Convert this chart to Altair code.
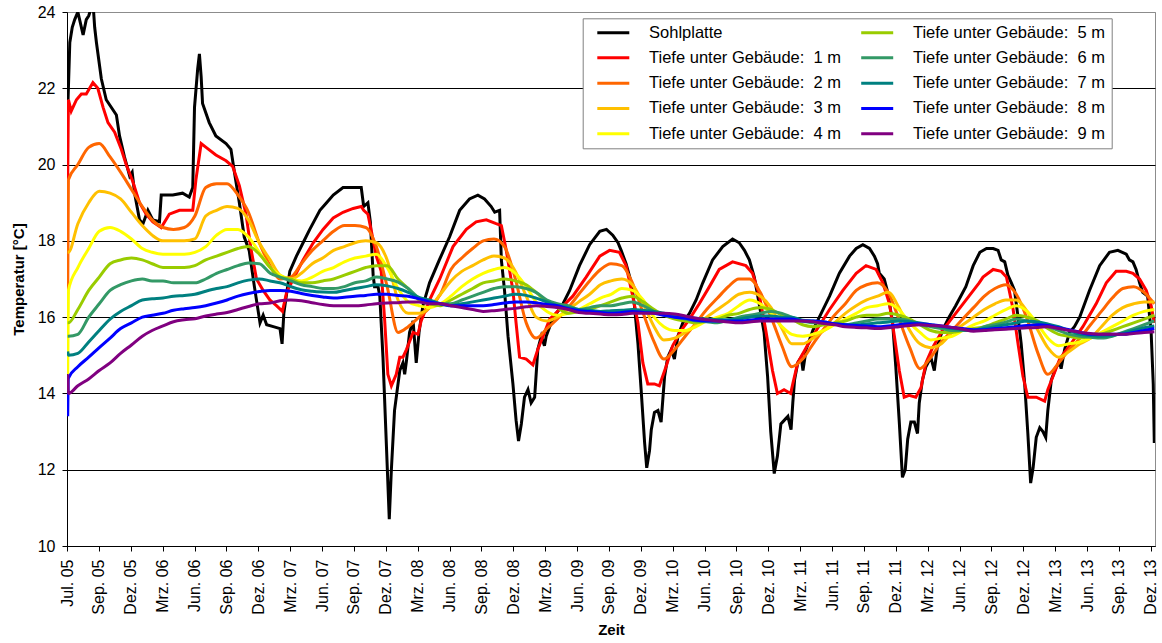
import json
import altair as alt
import pandas as pd

START = pd.Timestamp("2005-07-01")

SERIES = [
    "Sohlplatte",
    "Tiefe unter Gebäude:\u00a0 1 m",
    "Tiefe unter Gebäude:\u00a0 2 m",
    "Tiefe unter Gebäude:\u00a0 3 m",
    "Tiefe unter Gebäude:\u00a0 4 m",
    "Tiefe unter Gebäude:\u00a0 5 m",
    "Tiefe unter Gebäude:\u00a0 6 m",
    "Tiefe unter Gebäude:\u00a0 7 m",
    "Tiefe unter Gebäude:\u00a0 8 m",
    "Tiefe unter Gebäude:\u00a0 9 m",
]
COLORS = ["#000000", "#FF0000", "#FF6600", "#FFC000", "#FFFF00",
          "#99CC00", "#339966", "#008080", "#0000FF", "#800080"]

X_TICK_LABELS = [
    "Jul. 05", "Sep. 05", "Dez. 05", "Mrz. 06", "Jun. 06", "Sep. 06", "Dez. 06",
    "Mrz. 07", "Jun. 07", "Sep. 07", "Dez. 07", "Mrz. 08", "Jun. 08", "Sep. 08",
    "Dez. 08", "Mrz. 09", "Jun. 09", "Sep. 09", "Dez. 09", "Mrz. 10", "Jun. 10",
    "Sep. 10", "Dez. 10", "Mrz. 11", "Jun. 11", "Sep. 11", "Dez. 11", "Mrz. 12",
    "Jun. 12", "Sep. 12", "Dez. 12", "Mrz. 13", "Jun. 13", "Sep. 13", "Dez. 13",
]
Y_TICKS = [10, 12, 14, 16, 18, 20, 22, 24]

# ---- Sohlplatte: days since 01.07.2005 and temperature ----
BLACK_DAYS = [
    3, 8, 15, 22, 31, 46, 55, 62, 69, 76, 79, 84, 98, 112, 141, 150, 164, 179, 186, 193,
    207, 217, 231, 245, 264, 269, 283, 302, 330, 349, 359, 364, 373, 378, 383, 387, 406,
    425, 454, 468, 478, 492, 506, 520, 535, 551, 560, 570, 589, 608, 614, 619, 636, 655,
    674, 693, 722, 741, 760, 788, 817, 840, 847, 859, 866, 874, 878, 888, 893, 902, 912,
    920, 926, 935, 950, 959, 964, 969, 978, 988, 997, 1005, 1016, 1035, 1063, 1092, 1121,
    1149, 1173, 1192, 1211, 1221, 1235, 1240, 1249, 1259, 1273, 1282, 1289, 1297, 1306,
    1316, 1325, 1335, 1344, 1354, 1363, 1368, 1382, 1397, 1416, 1435, 1463, 1492, 1521,
    1540, 1558, 1573, 1582, 1596, 1611, 1620, 1630, 1639, 1649, 1655, 1663, 1668, 1677,
    1687, 1696, 1701, 1706, 1715, 1725, 1734, 1744, 1758, 1777, 1796, 1815, 1843, 1872,
    1900, 1919, 1934, 1948, 1962, 1976, 1990, 2000, 2009, 2019, 2028, 2038, 2048, 2058,
    2067, 2072, 2077, 2086, 2096, 2101, 2110, 2129, 2153, 2177, 2205, 2234, 2253, 2272,
    2291, 2305, 2314, 2319, 2333, 2343, 2357, 2366, 2376, 2385, 2393, 2400, 2409, 2419,
    2428, 2433, 2442, 2452, 2466, 2476, 2485, 2499, 2518, 2537, 2566, 2587, 2606, 2625,
    2644, 2658, 2667, 2677, 2686, 2696, 2705, 2715, 2724, 2734, 2743, 2751, 2758, 2767,
    2777, 2786, 2794, 2800, 2810, 2824, 2834, 2838, 2848, 2862, 2876, 2891, 2919, 2948,
    2976, 3000, 3024, 3033, 3043, 3052, 3062, 3071, 3085, 3095, 3101, 3104,
]
BLACK_TEMPS = [
    21.7, 23.2, 23.6, 23.8, 24.0, 23.4, 23.8, 23.9, 24.1, 24.0, 23.6, 23.2, 22.25, 21.7, 21.3, 20.75, 20.2, 19.7, 19.8, 19.25,
    18.55, 18.45, 18.8, 18.55, 18.5, 19.2, 19.2, 19.2, 19.25, 19.15, 19.4, 21.5, 22.5, 22.9, 22.3, 21.6, 21.1,
    20.75, 20.55, 20.4, 19.8, 19.0, 18.1, 17.75, 16.8, 15.85, 16.05, 15.8, 15.75, 15.7, 15.3, 16.1, 17.2, 17.6,
    17.95, 18.3, 18.8, 19.0, 19.2, 19.4, 19.4, 19.4, 18.9, 19.0, 18.5, 17.1, 16.8, 16.8, 16.55, 14.95, 12.6,
    10.7, 12.0, 13.55, 14.6, 14.8, 14.5, 14.85, 15.6, 15.9, 14.8, 15.6, 16.3, 16.9, 17.5, 18.1, 18.8,
    19.1, 19.2, 19.1, 18.9, 18.75, 18.8, 17.5, 16.7, 15.5, 14.25, 13.3, 12.75, 13.2, 13.9,
    14.1, 13.75, 13.9, 15.15, 15.5, 15.25, 15.5, 15.85, 16.1, 16.35, 16.7, 17.35, 17.9, 18.25,
    18.3, 18.15, 17.95, 17.75, 17.4, 16.9, 16.3, 15.3, 14.1, 12.7, 12.05, 12.5, 13.05, 13.5,
    13.55, 13.25, 13.85, 14.45, 14.95, 15.15, 14.9, 15.5, 15.85, 16.1, 16.45, 16.9, 17.5, 17.85,
    18.05, 17.95, 17.75, 17.5, 17.05, 16.35, 15.6, 14.45, 13.0, 11.9, 12.35, 13.2, 13.3, 13.4,
    13.05, 13.75, 14.35, 14.8, 14.95, 14.6, 15.15, 15.65, 16.1, 16.55, 17.15, 17.6, 17.8, 17.9,
    17.8, 17.6, 17.4, 17.15, 17.0, 16.65, 15.85, 14.7, 13.25, 11.8, 12.0, 12.8, 13.25, 13.25,
    12.95, 13.75, 14.35, 14.7, 14.95, 14.6, 15.25, 15.65, 16.0, 16.3, 16.8, 17.35, 17.7, 17.8,
    17.8, 17.75, 17.5, 17.45, 17.1, 16.9, 16.7, 16.0, 15.3, 14.25, 12.95, 11.65, 12.05, 12.85,
    13.1, 13.0, 12.85, 13.55, 14.35, 14.7, 14.8, 14.65, 15.15, 15.6, 15.75, 16.0, 16.7, 17.35,
    17.7, 17.75, 17.65, 17.5, 17.45, 17.25, 16.9, 16.65, 16.55, 15.6, 14.25, 12.7,
]

# ---- 1 m: days since 01.07.2005 and temperature ----
RED_DAYS = [
    2, 4, 12, 27, 41, 55, 74, 88, 103, 117, 136, 155, 169, 188, 207, 226, 245, 269, 292, 321,
    359, 368, 383, 397, 425, 454, 473, 492, 511, 525, 541, 560, 579, 598, 615, 627, 646, 674,
    703, 731, 760, 788, 817, 840, 847, 859, 869, 883, 897, 907, 916, 926, 940, 950, 959, 969,
    988, 1002, 1011, 1035, 1064, 1102, 1140, 1168, 1197, 1225, 1240, 1254, 1273, 1282, 1292,
    1311, 1330, 1344, 1359, 1378, 1406, 1444, 1482, 1521, 1549, 1577, 1596, 1615, 1630, 1644,
    1658, 1677, 1691, 1710, 1729, 1753, 1777, 1805, 1834, 1862, 1900, 1938, 1957, 1976, 1995,
    2014, 2028, 2047, 2066, 2072, 2086, 2110, 2139, 2177, 2215, 2253, 2281, 2310, 2329, 2348,
    2362, 2376, 2390, 2404, 2423, 2438, 2452, 2471, 2499, 2537, 2575, 2604, 2615, 2644, 2667,
    2682, 2701, 2715, 2729, 2743, 2767, 2791, 2800, 2815, 2834, 2862, 2900, 2938, 2967, 2995,
    3024, 3043, 3062, 3081, 3095, 3104,
]
RED_TEMPS = [
    19.6, 21.7, 21.4, 21.7, 21.85, 21.85, 22.15, 22.0, 21.5, 21.1, 20.85, 20.4, 20.0, 19.55, 19.0, 18.7, 18.5, 18.35, 18.7, 18.8,
    18.8, 19.6, 20.55, 20.45, 20.25, 20.1, 19.95, 19.45, 18.7, 17.8, 17.0, 16.7, 16.45, 16.3, 16.15, 16.65, 17.0, 17.5,
    17.95, 18.3, 18.6, 18.75, 18.85, 18.9, 18.8, 18.7, 18.25, 17.6, 17.2, 15.9, 14.5, 14.2, 14.5, 14.95, 14.95, 15.15,
    15.6, 15.55, 15.9, 16.45, 17.0, 17.85, 18.3, 18.5, 18.55, 18.45, 18.4, 17.75, 16.7, 15.85, 14.95,
    14.9, 14.75, 15.15, 15.5, 15.95, 16.2, 16.55, 17.05, 17.6, 17.75, 17.7, 17.35, 16.55, 15.85, 14.8,
    14.25, 14.25, 14.2, 14.7, 15.25, 15.65, 15.95, 16.35, 16.8, 17.25, 17.45, 17.35, 17.15, 16.6, 15.65,
    14.6, 14.0, 14.1, 14.0, 14.25, 14.8, 15.2, 15.65, 16.2, 16.7, 17.15, 17.35, 17.25, 16.9, 16.35,
    15.5, 14.6, 13.9, 13.95, 13.9, 14.15, 14.8, 15.2, 15.65, 16.1, 16.55, 16.9, 17.05, 17.25, 17.2,
    17.05, 16.2, 15.3, 14.45, 13.9, 13.9, 13.8, 14.1, 14.45, 14.9, 15.25, 15.75, 16.35, 16.9, 17.2,
    17.2, 17.15, 17.0, 16.7, 16.3, 15.85,
]

# ---- 2 m ... 9 m: two start readings, the 1st of every month Aug 2005 - Dec 2013, last reading ----
MONTH_DATES = (["2005-07-03", "2005-07-05"]
               + [d.strftime("%Y-%m-%d") for d in pd.date_range("2005-08-01", "2013-12-01", freq="MS")]
               + ["2013-12-30"])

T_2M = [16.6, 19.6,
        20.0, 20.45, 20.55, 20.2, 19.8,
        19.35, 18.9, 18.55, 18.35, 18.3, 18.35, 18.65, 19.4, 19.5, 19.5, 19.2, 18.75,
        17.95, 17.35, 17.0, 17.05, 17.4, 17.75, 18.0, 18.25, 18.4, 18.4, 18.35, 17.85,
        16.8, 15.6, 15.75, 16.0, 16.25, 16.6, 17.25, 17.55, 17.8, 18.0, 18.05, 17.85,
        17.0, 15.85, 15.45, 15.7, 15.95, 16.25, 16.6, 16.95, 17.25, 17.4, 17.35, 16.9,
        16.1, 15.35, 14.9, 15.15, 15.5, 15.85, 16.2, 16.5, 16.8, 17.0, 17.0, 16.65,
        16.0, 15.25, 14.7, 14.9, 15.3, 15.7, 16.05, 16.35, 16.7, 16.85, 16.9, 16.65,
        15.95, 15.2, 14.65, 14.95, 15.35, 15.65, 15.95, 16.25, 16.55, 16.75, 16.85, 16.6,
        15.95, 15.05, 14.5, 14.8, 15.15, 15.45, 15.8, 16.15, 16.5, 16.75, 16.8, 16.65,
        16.35]
T_3M = [17.7, 17.7,
        18.45, 19.0, 19.3, 19.25, 19.1,
        18.75, 18.4, 18.15, 18.0, 18.0, 18.0, 18.05, 18.65, 18.8, 18.9, 18.85, 18.55,
        17.95, 17.5, 17.1, 17.0, 17.15, 17.4, 17.55, 17.75, 17.85, 17.95, 18.0, 17.95,
        17.5, 16.45, 16.1, 16.1, 16.25, 16.6, 16.95, 17.2, 17.35, 17.5, 17.6, 17.55,
        17.2, 16.55, 16.0, 15.9, 16.0, 16.2, 16.4, 16.6, 16.85, 16.95, 17.0, 16.85,
        16.35, 15.75, 15.4, 15.45, 15.6, 15.8, 16.0, 16.2, 16.4, 16.6, 16.65, 16.55,
        16.25, 15.7, 15.3, 15.3, 15.45, 15.65, 15.85, 16.1, 16.3, 16.45, 16.55, 16.65,
        16.25, 15.65, 15.3, 15.2, 15.3, 15.6, 15.8, 16.0, 16.2, 16.35, 16.45, 16.45,
        16.15, 15.65, 15.2, 14.95, 15.1, 15.3, 15.45, 15.75, 16.05, 16.25, 16.35, 16.4,
        16.4]
T_4M = [14.5, 16.7,
        17.3, 17.8, 18.25, 18.35, 18.25,
        18.05, 17.8, 17.7, 17.65, 17.65, 17.65, 17.7, 17.85, 18.15, 18.3, 18.3, 18.1,
        17.7, 17.3, 17.1, 17.0, 16.95, 17.05, 17.2, 17.3, 17.45, 17.55, 17.6, 17.65,
        17.3, 16.75, 16.4, 16.3, 16.25, 16.35, 16.55, 16.8, 17.0, 17.15, 17.25, 17.3,
        17.15, 16.8, 16.4, 16.15, 16.05, 16.1, 16.2, 16.35, 16.5, 16.6, 16.75, 16.7,
        16.45, 16.0, 15.75, 15.65, 15.65, 15.75, 15.9, 16.0, 16.1, 16.3, 16.45, 16.35,
        16.1, 15.75, 15.55, 15.5, 15.55, 15.65, 15.8, 15.95, 16.1, 16.25, 16.3, 16.35,
        16.2, 15.85, 15.6, 15.4, 15.45, 15.5, 15.65, 15.8, 15.9, 16.05, 16.2, 16.3,
        16.15, 15.8, 15.45, 15.25, 15.3, 15.35, 15.45, 15.6, 15.75, 15.9, 16.05, 16.15,
        16.2]
T_5M = [15.85, 15.85,
        16.2, 16.7, 17.05, 17.4, 17.5,
        17.55, 17.5, 17.4, 17.3, 17.3, 17.3, 17.35, 17.5, 17.6, 17.7, 17.8, 17.85,
        17.65, 17.3, 17.05, 17.0, 16.9, 16.9, 16.95, 17.0, 17.1, 17.2, 17.3, 17.35,
        17.35, 17.0, 16.75, 16.45, 16.35, 16.3, 16.45, 16.6, 16.75, 16.9, 16.95, 17.0,
        16.95, 16.85, 16.65, 16.4, 16.25, 16.1, 16.15, 16.2, 16.3, 16.4, 16.5, 16.55,
        16.4, 16.2, 16.05, 15.95, 15.9, 15.85, 15.9, 15.95, 16.05, 16.1, 16.2, 16.25,
        16.2, 16.05, 15.95, 15.8, 15.75, 15.8, 15.85, 15.9, 16.0, 16.05, 16.05, 16.1,
        16.05, 15.95, 15.8, 15.65, 15.6, 15.6, 15.65, 15.7, 15.75, 15.85, 15.95, 16.05,
        16.0, 15.9, 15.7, 15.55, 15.5, 15.45, 15.5, 15.55, 15.65, 15.75, 15.85, 15.95,
        16.05]
T_6M = [15.5, 15.5,
        15.55, 16.0, 16.35, 16.7, 16.85,
        16.95, 17.0, 16.95, 16.95, 16.9, 16.9, 16.9, 17.0, 17.15, 17.25, 17.35, 17.42,
        17.4, 17.15, 17.05, 16.95, 16.85, 16.8, 16.75, 16.75, 16.8, 16.9, 16.95, 17.05,
        17.0, 16.92, 16.75, 16.5, 16.4, 16.35, 16.35, 16.45, 16.55, 16.65, 16.75, 16.8,
        16.8, 16.75, 16.65, 16.45, 16.35, 16.3, 16.2, 16.25, 16.3, 16.3, 16.35, 16.4,
        16.3, 16.15, 16.05, 16.0, 15.95, 15.9, 15.88, 15.85, 15.92, 16.0, 16.05, 16.1,
        16.15, 16.1, 16.0, 15.9, 15.85, 15.85, 15.82, 15.8, 15.85, 15.9, 15.95, 15.95,
        15.95, 15.9, 15.8, 15.75, 15.7, 15.65, 15.65, 15.65, 15.75, 15.8, 15.87, 15.95,
        15.9, 15.85, 15.75, 15.65, 15.55, 15.5, 15.47, 15.45, 15.5, 15.6, 15.7, 15.8,
        15.9]
T_7M = [15.1, 15.0,
        15.05, 15.35, 15.65, 15.95, 16.15,
        16.3, 16.45, 16.48, 16.5, 16.55, 16.57, 16.6, 16.68, 16.75, 16.8, 16.9, 16.97,
        17.0, 16.95, 16.9, 16.8, 16.72, 16.68, 16.66, 16.65, 16.7, 16.75, 16.8, 16.85,
        16.82, 16.75, 16.65, 16.52, 16.45, 16.35, 16.3, 16.35, 16.4, 16.45, 16.5, 16.55,
        16.6, 16.57, 16.5, 16.4, 16.3, 16.25, 16.2, 16.18, 16.15, 16.17, 16.18, 16.2,
        16.18, 16.15, 16.1, 16.05, 16.0, 15.97, 15.95, 15.93, 15.93, 15.95, 16.0, 16.03,
        16.03, 16.0, 16.0, 15.92, 15.9, 15.87, 15.83, 15.8, 15.8, 15.82, 15.85, 15.87,
        15.9, 15.88, 15.85, 15.8, 15.75, 15.7, 15.67, 15.65, 15.7, 15.75, 15.8, 15.85,
        15.9, 15.87, 15.82, 15.75, 15.65, 15.55, 15.52, 15.5, 15.52, 15.58, 15.65, 15.72,
        15.77]
T_8M = [13.4, 14.4,
        14.7, 14.95, 15.2, 15.45, 15.7,
        15.85, 16.0, 16.05, 16.1, 16.18, 16.22, 16.25, 16.3, 16.37, 16.45, 16.55, 16.62,
        16.67, 16.7, 16.7, 16.68, 16.62, 16.57, 16.53, 16.5, 16.52, 16.55, 16.57, 16.6,
        16.6, 16.57, 16.55, 16.48, 16.4, 16.35, 16.3, 16.3, 16.3, 16.3, 16.33, 16.37,
        16.4, 16.4, 16.38, 16.33, 16.3, 16.22, 16.17, 16.15, 16.12, 16.1, 16.12, 16.15,
        16.12, 16.1, 16.05, 16.0, 15.97, 15.92, 15.9, 15.9, 15.9, 15.9, 15.92, 15.95,
        15.95, 15.95, 15.95, 15.9, 15.9, 15.87, 15.83, 15.8, 15.78, 15.77, 15.75, 15.77,
        15.8, 15.83, 15.83, 15.8, 15.77, 15.73, 15.7, 15.67, 15.67, 15.7, 15.72, 15.75,
        15.78, 15.8, 15.78, 15.72, 15.67, 15.6, 15.55, 15.55, 15.55, 15.55, 15.6, 15.65,
        15.7]
T_9M = [14.5, 14.0,
        14.2, 14.38, 14.6, 14.8, 15.05,
        15.27, 15.5, 15.65, 15.77, 15.88, 15.93, 15.96, 16.03, 16.08, 16.12, 16.2, 16.28,
        16.35, 16.37, 16.43, 16.45, 16.43, 16.38, 16.33, 16.3, 16.3, 16.3, 16.32, 16.35,
        16.37, 16.38, 16.4, 16.4, 16.35, 16.35, 16.3, 16.25, 16.2, 16.15, 16.17, 16.2,
        16.23, 16.27, 16.3, 16.28, 16.25, 16.2, 16.12, 16.1, 16.08, 16.06, 16.07, 16.1,
        16.1, 16.1, 16.1, 16.08, 16.03, 15.97, 15.93, 15.9, 15.87, 15.85, 15.87, 15.9,
        15.9, 15.9, 15.9, 15.9, 15.88, 15.83, 15.8, 15.75, 15.73, 15.72, 15.7, 15.72,
        15.75, 15.78, 15.8, 15.78, 15.77, 15.73, 15.68, 15.63, 15.65, 15.67, 15.68, 15.7,
        15.72, 15.73, 15.75, 15.7, 15.65, 15.6, 15.57, 15.55, 15.55, 15.55, 15.57, 15.6,
        15.62]

# ---------------- build the long table ----------------
rows = []
for d, v in zip(BLACK_DAYS, BLACK_TEMPS):
    rows.append({"date": (START + pd.Timedelta(days=d)).strftime("%Y-%m-%d"), "temp": v, "series": SERIES[0]})
for d, v in zip(RED_DAYS, RED_TEMPS):
    rows.append({"date": (START + pd.Timedelta(days=d)).strftime("%Y-%m-%d"), "temp": v, "series": SERIES[1]})
for name, vals in zip(SERIES[2:], [T_2M, T_3M, T_4M, T_5M, T_6M, T_7M, T_8M, T_9M]):
    for d, v in zip(MONTH_DATES, vals):
        rows.append({"date": d, "temp": v, "series": name})
df = pd.DataFrame(rows)

# ---------------- axes / scales ----------------
DAY_MS = 86400000
t0_ms = int(pd.Timestamp("2005-07-01", tz="UTC").value // 10**6)
t_end_ms = int(pd.Timestamp("2014-01-01", tz="UTC").value // 10**6)
tick_ms = [t0_ms + 91 * k * DAY_MS for k in range(len(X_TICK_LABELS))]
label_expr = f"{json.dumps(X_TICK_LABELS)}[round((datum.value - {t0_ms}) / {91 * DAY_MS})]"

FONT = "Liberation Sans"

# the legend fills its columns top to bottom: first column Sohlplatte..4 m, second 5 m..9 m
color_scale = alt.Scale(domain=SERIES, range=COLORS)

x_enc = alt.X(
    "date:T",
    scale=alt.Scale(type="utc", domain=[t0_ms, t_end_ms], nice=False),
    axis=alt.Axis(
        values=tick_ms, labelExpr=label_expr, labelAngle=270, labelAlign="right",
        labelBaseline="middle", labelPadding=8, labelFontSize=16, labelFont=FONT,
        labelColor="black", labelOverlap=False, labelFlush=False, tickSize=5,
        tickColor="black", domainColor="black", grid=False, title="Zeit",
        titleFont=FONT, titleFontSize=15, titleFontWeight="bold", titleColor="black",
        titlePadding=8,
    ),
)
y_enc = alt.Y(
    "temp:Q",
    scale=alt.Scale(domain=[10, 24], nice=False, zero=False),
    axis=alt.Axis(
        values=Y_TICKS, labelFontSize=16, labelFont=FONT, labelColor="black",
        labelPadding=7, tickSize=5, tickColor="black", domainColor="black",
        grid=True, gridColor={"condition": {"test": "datum.value == 24", "value": "#8c8c8c"}, "value": "black"},
        gridWidth=1, title="Temperatur [°C]", titleFont=FONT, titleFontSize=15,
        titleFontWeight="bold", titleColor="black", titlePadding=11,
    ),
)
color_enc = alt.Color(
    "series:N",
    scale=color_scale,
    legend=alt.Legend(
        title=None, orient="none", legendX=515.7, legendY=6.3, columns=2,
        symbolType="M-4,0H4", symbolSize=64, symbolStrokeWidth=3, symbolOffset=16.35,
        labelOffset=27.5, labelFont=FONT, labelFontSize=16.5, labelColor="black",
        labelLimit=400, rowPadding=8.3, columnPadding=10.9, padding=6,
        strokeColor="#808080", fillColor="white",
        labelExpr="datum.label + '\u00a0\u00a0'",
    ),
)

layers = []
for i, s in enumerate(SERIES):
    layers.append(
        alt.Chart()
        .mark_line(strokeWidth=3, clip=True, interpolate="linear" if i < 2 else "monotone")
        .encode(x=x_enc, y=y_enc, color=color_enc)
        .transform_filter(alt.datum.series == s)
    )

chart = (
    alt.layer(*layers, data=df)
    .properties(
        width=1088, height=534,
        autosize=alt.AutoSizeParams(type="none"),
        padding={"left": 67, "top": 12, "right": 7, "bottom": 97},
        background="white",
    )
    .configure_view(stroke="#8c8c8c", strokeWidth=1)
)

chart.save("out.html", embed_options={"renderer": "svg", "actions": False})
